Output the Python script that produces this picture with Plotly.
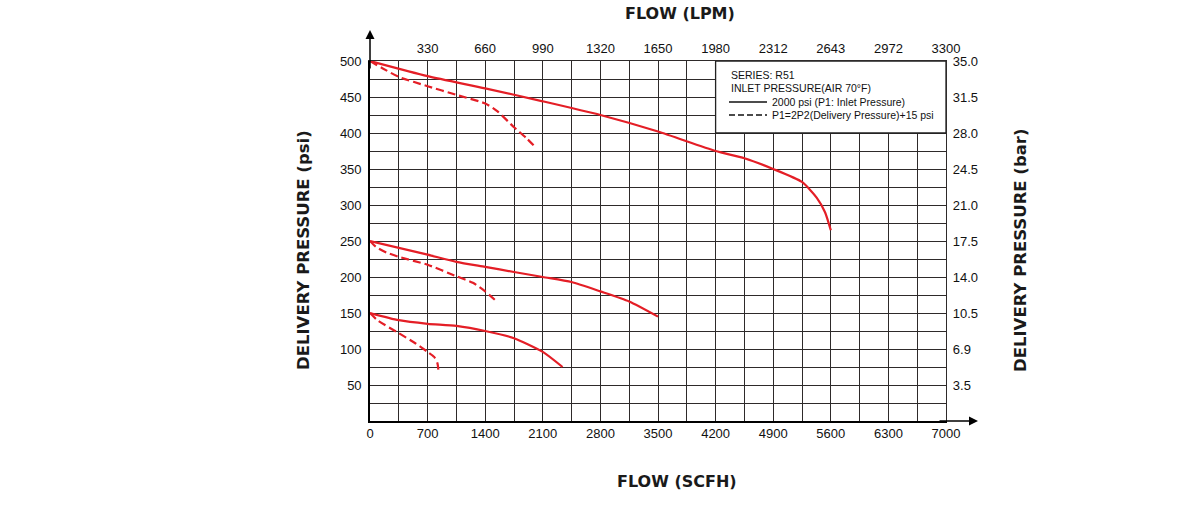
import plotly.graph_objects as go

# ---------------- data ----------------
# Flow in SCFH, delivery pressure in psi
s500_x = [0, 700, 1400, 2100, 2800, 3500, 4200, 4550, 4900, 5250, 5430, 5530, 5600]
s500_y = [500, 479, 462, 444, 425, 402, 375, 365, 350, 332, 310, 290, 265]
d500_x = [0, 150, 350, 700, 1050, 1400, 1550, 1750, 1900, 2020]
d500_y = [500, 490, 478, 465, 453, 441, 430, 408, 393, 379]

s250_x = [0, 700, 1050, 1400, 1750, 2100, 2450, 2800, 3150, 3500]
s250_y = [250, 231, 221, 214, 207, 200, 193, 180, 166, 145]
d250_x = [0, 70, 200, 350, 700, 1050, 1250, 1400, 1530]
d250_y = [250, 242, 234, 228, 217, 201, 192, 180, 167]

s150_x = [0, 350, 700, 1050, 1400, 1750, 2100, 2340]
s150_y = [150, 140, 135, 132, 125, 115, 96, 75]
d150_x = [0, 90, 350, 550, 700, 780, 820, 835]
d150_y = [150, 140, 122, 108, 96, 89, 80, 66]

x_ticks = [0, 700, 1400, 2100, 2800, 3500, 4200, 4900, 5600, 6300, 7000]
x_tick_text = ["0", "700", "1400", "2100", "2800", "3500", "4200", "4900", "5600", "6300", "7000"]
lpm_ticks = [700, 1400, 2100, 2800, 3500, 4200, 4900, 5600, 6300, 7000]
lpm_text = ["330", "660", "990", "1320", "1650", "1980", "2312", "2643", "2972", "3300"]
y_ticks = [50, 100, 150, 200, 250, 300, 350, 400, 450, 500]
y_tick_text = ["50", "100", "150", "200", "250", "300", "350", "400", "450", "500"]
bar_text = ["3.5", "6.9", "10.5", "14.0", "17.5", "21.0", "24.5", "28.0", "31.5", "35.0"]

legend_lines = ["SERIES: R51", "INLET PRESSURE(AIR 70\u00b0F)",
                "2000 psi (P1: Inlet Pressure)", "P1=2P2(Delivery Pressure)+15 psi"]

# ---------------- layout geometry ----------------
W, H = 1200, 507
L, R, T, B = 370, 254, 61, 86
PW, PH = W - L - R, H - T - B


def px(xp):
    return (xp - L) / PW


def py(yp):
    return (H - B - yp) / PH


RED = "#e41e26"
GRID = "#2e2a2a"
GW = 1.4
FONT = "Liberation Sans, Arial, sans-serif"
TFONT = "DejaVu Sans, Arial, sans-serif"

fig = go.Figure()
curves = [
    (s500_x, s500_y, "solid"), (d500_x, d500_y, "8px,4px"),
    (s250_x, s250_y, "solid"), (d250_x, d250_y, "8px,4px"),
    (s150_x, s150_y, "solid"), (d150_x, d150_y, "8px,4px"),
]
for cx, cy, dash in curves:
    fig.add_trace(go.Scatter(x=cx, y=cy, mode="lines",
                             line=dict(color=RED, width=2.2, dash=dash, shape="spline", smoothing=0.6),
                             showlegend=False, hoverinfo="skip", cliponaxis=False))

# invisible trace for secondary axes
fig.add_trace(go.Scatter(x=[0], y=[0], xaxis="x2", yaxis="y2", mode="markers",
                         marker=dict(opacity=0), showlegend=False, hoverinfo="skip"))

tickfont = dict(family=FONT, size=13, color="#111")
fig.update_layout(
    width=W, height=H,
    margin=dict(l=L, r=R, t=T, b=B, autoexpand=False),
    paper_bgcolor="white", plot_bgcolor="white",
    xaxis=dict(range=[0, 7000], tickvals=x_ticks, ticktext=x_tick_text,
               showgrid=True, gridcolor=GRID, gridwidth=GW,
               minor=dict(dtick=350, tick0=0, showgrid=True, gridcolor=GRID, gridwidth=GW),
               showline=True, linecolor="black", linewidth=1.6,
               zeroline=False, ticks="", tickfont=tickfont, automargin=False),
    yaxis=dict(range=[0, 500], tickvals=y_ticks, ticktext=y_tick_text,
               showgrid=True, gridcolor=GRID, gridwidth=GW,
               minor=dict(dtick=25, tick0=0, showgrid=True, gridcolor=GRID, gridwidth=GW),
               showline=True, linecolor="black", linewidth=1.6,
               zeroline=False, ticks="outside", ticklen=4, tickcolor="rgba(0,0,0,0)",
               tickfont=tickfont, automargin=False),
    xaxis2=dict(range=[0, 7000], overlaying="x", side="top", tickvals=lpm_ticks,
                ticktext=lpm_text, showgrid=False, showline=True, linecolor=GRID,
                linewidth=GW, zeroline=False, ticks="outside", ticklen=2,
                tickcolor="rgba(0,0,0,0)", tickfont=tickfont, automargin=False),
    yaxis2=dict(range=[0, 500], overlaying="y", side="right", tickvals=y_ticks,
                ticktext=bar_text, showgrid=False, showline=True, linecolor=GRID,
                linewidth=GW, zeroline=False, ticks="outside", ticklen=3,
                tickcolor="rgba(0,0,0,0)", tickfont=tickfont, automargin=False),
)

# legend box
fig.add_shape(type="rect", xref="x", yref="y", x0=4200, x1=7000, y0=400, y1=500,
              fillcolor="white", line=dict(color="#222", width=1.3), layer="above")
lfont = dict(family=FONT, size=10.5, color="#111")
fig.add_annotation(x=px(729), y=py(75), xref="paper", yref="paper", text=legend_lines[0],
                   showarrow=False, xanchor="left", yanchor="middle", font=lfont)
fig.add_annotation(x=px(729), y=py(88), xref="paper", yref="paper", text=legend_lines[1],
                   showarrow=False, xanchor="left", yanchor="middle", font=lfont)
fig.add_annotation(x=px(770), y=py(102), xref="paper", yref="paper", text=legend_lines[2],
                   showarrow=False, xanchor="left", yanchor="middle", font=lfont)
fig.add_annotation(x=px(770), y=py(115), xref="paper", yref="paper", text=legend_lines[3],
                   showarrow=False, xanchor="left", yanchor="middle", font=lfont)
fig.add_shape(type="line", xref="paper", yref="paper", x0=px(729), x1=px(767), y0=py(102), y1=py(102),
              line=dict(color="#111", width=1.5), layer="above")
fig.add_shape(type="line", xref="paper", yref="paper", x0=px(729), x1=px(767), y0=py(115), y1=py(115),
              line=dict(color="#111", width=1.5, dash="6px,3px"), layer="above")

# axis arrows
fig.add_annotation(x=0, y=py(30), xref="paper", yref="paper", ax=0, ay=40, text="",
                   showarrow=True, arrowhead=2, arrowsize=1.2, arrowwidth=1.5, arrowcolor="black")
fig.add_annotation(x=px(978), y=0, xref="paper", yref="paper", ax=-40, ay=0, text="",
                   showarrow=True, arrowhead=2, arrowsize=1.2, arrowwidth=1.5, arrowcolor="black")

# axis titles
tfont = dict(family=TFONT, size=16, color="#1a1a1a", weight="bold")
vfont = dict(family=TFONT, size=16.5, color="#1a1a1a", weight="bold")
fig.add_annotation(x=px(680), y=py(13), xref="paper", yref="paper", text="FLOW (LPM)",
                   showarrow=False, xanchor="center", yanchor="middle", font=tfont)
fig.add_annotation(x=px(677), y=py(481), xref="paper", yref="paper", text="FLOW (SCFH)",
                   showarrow=False, xanchor="center", yanchor="middle", font=tfont)
fig.add_annotation(x=px(303), y=py(250), xref="paper", yref="paper", text="DELIVERY PRESSURE (psi)",
                   showarrow=False, xanchor="center", yanchor="middle", textangle=-90, font=vfont)
fig.add_annotation(x=px(1020), y=py(250), xref="paper", yref="paper", text="DELIVERY PRESSURE (bar)",
                   showarrow=False, xanchor="center", yanchor="middle", textangle=-90, font=vfont)

fig.write_html("out.html")
